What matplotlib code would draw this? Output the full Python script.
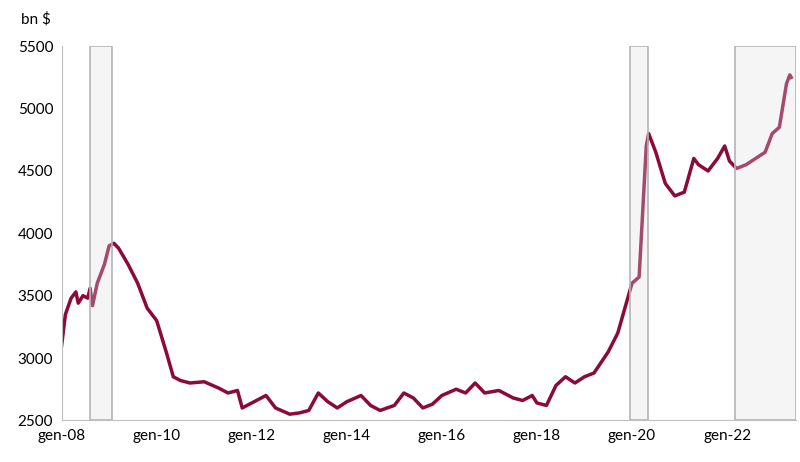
import matplotlib.pyplot as plt
import matplotlib.patches as mpatches

# time as decimal year, value in bn $
years = [2008.0, 2008.08, 2008.2, 2008.3, 2008.35, 2008.45, 2008.55, 2008.6, 2008.65, 2008.75,
         2008.9, 2009.0, 2009.1, 2009.2, 2009.4, 2009.6, 2009.8, 2010.0, 2010.2, 2010.35,
         2010.5, 2010.7, 2011.0, 2011.3, 2011.5, 2011.7, 2011.8, 2012.0, 2012.3, 2012.5,
         2012.8, 2013.0, 2013.2, 2013.4, 2013.6, 2013.8, 2014.0, 2014.3, 2014.5, 2014.7,
         2015.0, 2015.2, 2015.4, 2015.6, 2015.8, 2016.0, 2016.3, 2016.5, 2016.7, 2016.9,
         2017.2, 2017.5, 2017.7, 2017.9, 2018.0, 2018.2, 2018.4, 2018.6, 2018.8, 2019.0,
         2019.2, 2019.5, 2019.7, 2019.85, 2020.0, 2020.15, 2020.2, 2020.3, 2020.35, 2020.5,
         2020.7, 2020.9, 2021.1, 2021.3, 2021.4, 2021.6, 2021.8, 2021.95, 2022.05, 2022.2,
         2022.4, 2022.6, 2022.8, 2022.95, 2023.1, 2023.25, 2023.32, 2023.35]
values = [3100, 3350, 3480, 3530, 3440, 3500, 3480, 3560, 3420, 3600,
          3750, 3900, 3920, 3880, 3750, 3600, 3400, 3300, 3050, 2850,
          2820, 2800, 2810, 2760, 2720, 2740, 2600, 2640, 2700, 2600,
          2550, 2560, 2580, 2720, 2650, 2600, 2650, 2700, 2620, 2580,
          2620, 2720, 2680, 2600, 2630, 2700, 2750, 2720, 2800, 2720,
          2740, 2680, 2660, 2700, 2640, 2620, 2780, 2850, 2800, 2850,
          2880, 3050, 3200, 3400, 3600, 3650, 4000, 4700, 4800, 4650,
          4400, 4300, 4330, 4600, 4550, 4500, 4600, 4700, 4580, 4520,
          4550, 4600, 4650, 4800, 4850, 5200, 5270, 5250]

# shaded periods (start, end)
shade_start = [2008.6, 2019.95, 2022.17]
shade_end = [2009.05, 2020.33, 2023.45]

tick_years = [2008, 2010, 2012, 2014, 2016, 2018, 2020, 2022]
tick_lbls = ['gen-08', 'gen-10', 'gen-12', 'gen-14', 'gen-16', 'gen-18', 'gen-20', 'gen-22']

plt.rcParams['font.family'] = ['Lato', 'DejaVu Sans']
fig, ax = plt.subplots(figsize=(8, 4.62), dpi=100)
fig.subplots_adjust(left=0.077, right=0.995, top=0.90, bottom=0.09)

ax.plot(years, values, color='#8b0a3a', linewidth=2.5, zorder=2)
for s, e in zip(shade_start, shade_end):
    # light fill over the line, plus a separate solid outline
    ax.add_patch(mpatches.Rectangle((s, 2500), e - s, 3000, facecolor='#e0e0e0',
                                    edgecolor='none', alpha=0.3, zorder=3))
    ax.add_patch(mpatches.Rectangle((s, 2500), e - s, 3000, facecolor='none',
                                    edgecolor='#b5b5b5', linewidth=1.2, zorder=3))

ax.set_xlim(2008, 2023.45)
ax.set_ylim(2500, 5500)
ax.set_yticks([2500, 3000, 3500, 4000, 4500, 5000, 5500])
ax.set_xticks(tick_years)
ax.set_xticklabels(tick_lbls)
ax.tick_params(labelsize=11, length=0, pad=6)
for sp in ['top', 'right']:
    ax.spines[sp].set_visible(False)
for sp in ['left', 'bottom']:
    ax.spines[sp].set_color('#bfbfbf')
ax.text(-0.055, 1.06, 'bn $', transform=ax.transAxes, fontsize=11)

plt.savefig('out.png')
